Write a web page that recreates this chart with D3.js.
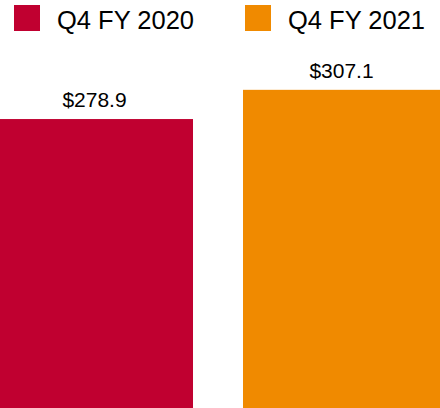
<!DOCTYPE html>
<html>
<head>
<meta charset="utf-8">
<script src="https://cdn.jsdelivr.net/npm/d3@7"></script>
<style>
  body { margin: 0; background: #fff; }
  svg { display: block; font-family: "Liberation Sans", Arial, sans-serif; }
</style>
</head>
<body>
<div id="viz"></div>
<script>
// data
var categories = ["Q4 FY 2020", "Q4 FY 2021"];
var values = [278.9, 307.1];
var labels = ["$278.9", "$307.1"];
var colors = ["#c00030", "#f08a00"];

var width = 440, height = 408;

var svg = d3.select("#viz")
  .append("svg")
  .attr("width", width)
  .attr("height", height);

// scales
var x = d3.scaleBand()
  .domain(categories)
  .range([-4, 440])
  .paddingInner(0.2024);

var y = d3.scaleLinear()
  .domain([0, 393.8])
  .range([height, 0]);

// bars
svg.selectAll(".bar")
  .data(categories)
  .enter().append("rect")
  .attr("class", "bar")
  .attr("x", function(d) { return x(d); })
  .attr("width", x.bandwidth())
  .attr("y", function(d, i) { return y(values[i]); })
  .attr("height", function(d, i) { return height - y(values[i]); })
  .attr("fill", function(d, i) { return colors[i]; });

// value labels
svg.selectAll(".lbl")
  .data(categories)
  .enter().append("text")
  .attr("class", "lbl")
  .attr("x", function(d) { return x(d) + x.bandwidth() / 2; })
  .attr("y", function(d, i) { return y(values[i]) - 12; })
  .attr("text-anchor", "middle")
  .style("font-size", "21px")
  .attr("fill", "#000")
  .text(function(d, i) { return labels[i]; });

// legend
var legendX = [14, 245];
var leg = svg.selectAll(".leg")
  .data(categories)
  .enter().append("g")
  .attr("class", "leg")
  .attr("transform", function(d, i) { return "translate(" + legendX[i] + ",5)"; });

leg.append("rect")
  .attr("width", 26)
  .attr("height", 26)
  .attr("fill", function(d, i) { return colors[i]; });

leg.append("text")
  .attr("x", 43)
  .attr("y", 24)
  .style("font-size", "25.5px")
  .attr("fill", "#000")
  .text(function(d) { return d; });
</script>
</body>
</html>
